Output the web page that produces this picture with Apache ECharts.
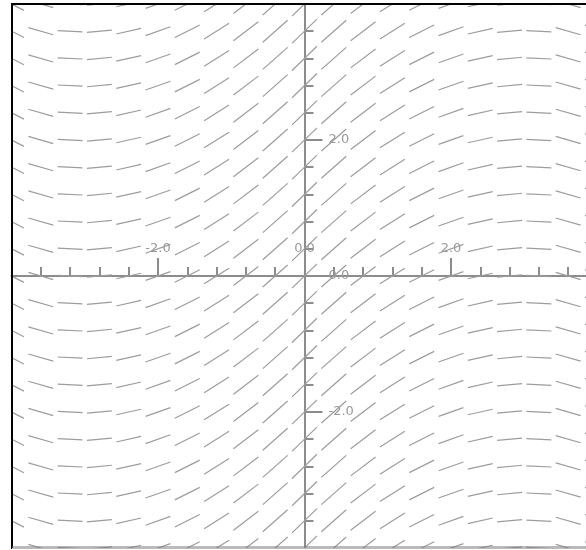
<!DOCTYPE html>
<html>
<head>
<meta charset="utf-8">
<script src="https://cdn.jsdelivr.net/npm/echarts@6/dist/echarts.min.js"></script>
<style>html,body{margin:0;padding:0;background:#fff;}#c{width:586px;height:550px;}</style>
</head>
<body>
<div id="c"></div>
<script>
// Grid of sample points (columns / rows) of the slope field
const xValues = [-4.0,-3.6,-3.2,-2.8,-2.4,-2.0,-1.6,-1.2,-0.8,-0.4,0.0,0.4,0.8,1.2,1.6,2.0,2.4,2.8,3.2,3.6,4.0];
const yValues = [-4.0,-3.6,-3.2,-2.8,-2.4,-2.0,-1.6,-1.2,-0.8,-0.4,0.0,0.4,0.8,1.2,1.6,2.0,2.4,2.8,3.2,3.6,4.0];
// Slope read for each column (slope depends only on x)
const slopes = [-0.55,-0.31,-0.05,0.10,0.24,0.38,0.54,0.68,0.82,0.95,1.05,0.95,0.82,0.68,0.54,0.38,0.24,0.10,-0.05,-0.31,-0.55];
// Tick labels
const xLabelValues = [-2, 0, 2];
const yLabelValues = [-2, 0, 2];
const majorTickValues = [-2, 2];

const data = [];
xValues.forEach((x, i) => {
  yValues.forEach(y => { data.push([x, y, slopes[i]]); });
});

const HALF = 0.17;
const grey = '#8c8c8c';
const GRID = { left: 11.5, top: 4, width: 586, height: 544 };
const chart = echarts.init(document.getElementById('c'));
chart.setOption({
  animation: false,
  backgroundColor: '#fff',
  grid: { left: GRID.left, top: GRID.top, width: GRID.width, height: GRID.height,
    containLabel: false, outerBoundsMode: 'none' },
  xAxis: {
    type: 'value', min: -4, max: 4, interval: 2, position: 'bottom',
    offset: -GRID.height / 2,
    axisLine: { onZero: false, lineStyle: { color: grey, width: 2 } },
    axisTick: { inside: true, length: 18, customValues: majorTickValues, lineStyle: { color: grey, width: 2 } },
    minorTick: { show: true, splitNumber: 5, length: 9, lineStyle: { color: grey, width: 2 } },
    axisLabel: { inside: true, margin: 21, customValues: xLabelValues, color: '#999', fontSize: 13,
      fontFamily: 'DejaVu Sans', formatter: v => v.toFixed(1) },
    splitLine: { show: false }, minorSplitLine: { show: false }
  },
  yAxis: {
    type: 'value', min: -4, max: 4, interval: 2, position: 'left',
    offset: -GRID.width / 2,
    axisLine: { onZero: false, lineStyle: { color: grey, width: 2 } },
    axisTick: { inside: true, length: 18, customValues: majorTickValues, lineStyle: { color: grey, width: 2 } },
    minorTick: { show: true, splitNumber: 5, length: 9, lineStyle: { color: grey, width: 2 } },
    axisLabel: { inside: true, margin: 24, customValues: yLabelValues, color: '#999', fontSize: 13,
      fontFamily: 'DejaVu Sans', formatter: v => v.toFixed(1) },
    splitLine: { show: false }, minorSplitLine: { show: false }
  },
  series: [{
    type: 'custom',
    clip: true,
    z: 1,
    data: data,
    renderItem: function (params, api) {
      const x = api.value(0), y = api.value(1), s = api.value(2);
      const p1 = api.coord([x - HALF, y - HALF * s]);
      const p2 = api.coord([x + HALF, y + HALF * s]);
      return { type: 'line', shape: { x1: p1[0], y1: p1[1], x2: p2[0], y2: p2[1] },
        style: { stroke: '#9c9c9c', lineWidth: 1.2 } };
    }
  }],
  graphic: [
    { type: 'line', z: 100, shape: { x1: 12, y1: 3, x2: 12, y2: 549 }, style: { stroke: '#000', lineWidth: 2 } },
    { type: 'line', z: 100, shape: { x1: 11, y1: 4, x2: 586, y2: 4 }, style: { stroke: '#000', lineWidth: 2 } },
    { type: 'line', z: 100, shape: { x1: 12, y1: 547, x2: 586, y2: 547 }, style: { stroke: '#777', lineWidth: 1 } },
    { type: 'line', z: 100, shape: { x1: 12, y1: 548.5, x2: 586, y2: 548.5 }, style: { stroke: '#bbb', lineWidth: 1 } }
  ]
});
</script>
</body>
</html>
